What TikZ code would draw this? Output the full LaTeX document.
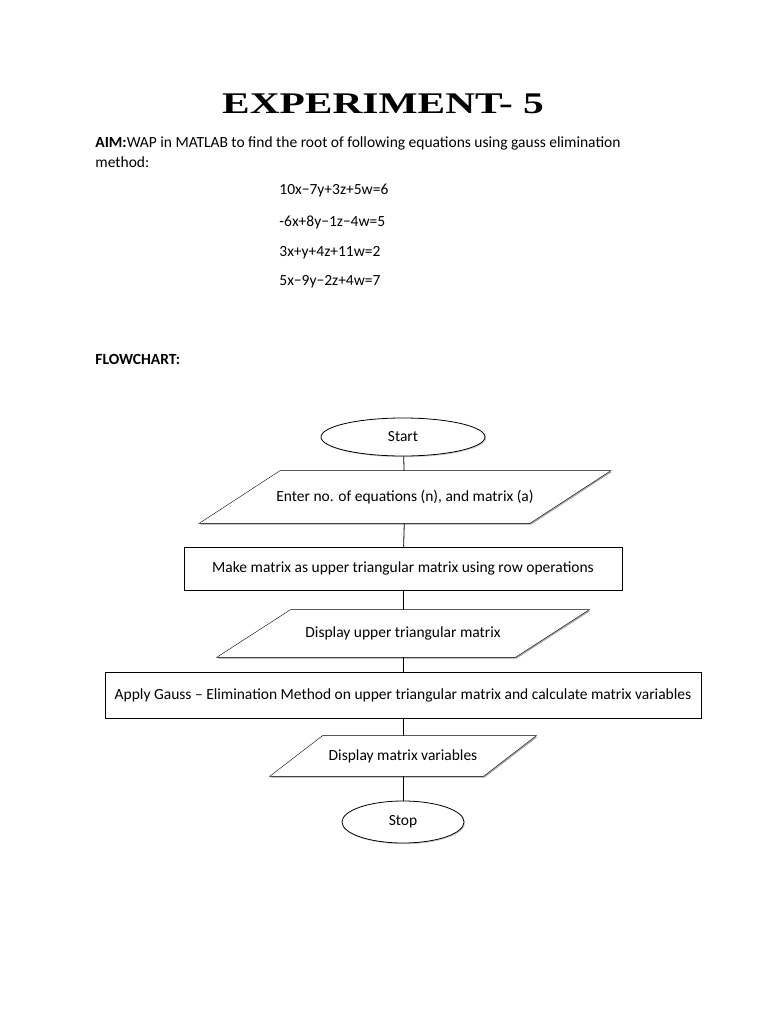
\documentclass[tikz,border=0pt]{standalone}
\usepackage{fontspec}
\setmainfont{Carlito}
\newfontfamily\titlefont{Liberation Serif}
\usetikzlibrary{shapes.geometric, shadows, backgrounds}

% parallelogram round a named node: #1 node, #2 half of the slant
\newcommand{\ioframe}[2]{%
  \begin{scope}[on background layer]
    \fill[black!35] ([xshift=#2pt+1.2pt, yshift=-1.2pt]#1.north west) -- ([xshift=#2pt+1.2pt, yshift=-1.2pt]#1.north east)
      -- ([xshift=-#2pt+1.2pt, yshift=-1.2pt]#1.south east) -- ([xshift=-#2pt+1.2pt, yshift=-1.2pt]#1.south west) -- cycle;
    \draw[fill=white] ([xshift=#2pt]#1.north west) -- ([xshift=#2pt]#1.north east)
      -- ([xshift=-#2pt]#1.south east) -- ([xshift=-#2pt]#1.south west) -- cycle;
  \end{scope}}

\begin{document}
\begin{tikzpicture}[x=1pt,y=1pt,line width=0.8pt,font=\fontsize{15.5}{18}\selectfont]
\tikzset{terminal/.style = {shape=ellipse, draw, fill=white, inner sep=0pt, drop shadow={opacity=0.35, shadow xshift=1.2pt, shadow yshift=-1.2pt}},
         io/.style = {shape=rectangle, inner sep=0pt},
         process/.style = {shape=rectangle, draw, fill=white, inner sep=0pt, drop shadow={opacity=0.35, shadow xshift=1.2pt, shadow yshift=-1.2pt}},
         txt/.style = {anchor=base west, inner sep=0pt}}
\useasboundingbox (0,0) rectangle (768,-1024);

%heading
\node[anchor=base, inner sep=0pt] (title) at (383,-114) {\titlefont\bfseries\fontsize{30}{30}\selectfont\scalebox{1.38}[1]{EXPERIMENT- 5}};
\node[txt] (aim) at (95,-148) {\textbf{AIM:}WAP in MATLAB to find the root of following equations using gauss elimination};
\node[txt] (method) at (95,-168) {method:};
\node[txt] (eq1) at (279,-195) {10x−7y+3z+5w=6};
\node[txt] (eq2) at (279,-226) {-6x+8y−1z−4w=5};
\node[txt] (eq3) at (279,-256) {3x+y+4z+11w=2};
\node[txt] (eq4) at (279,-285) {5x−9y−2z+4w=7};
\node[txt] (fc) at (95,-364) {\textbf{FLOWCHART:}};

%blocks
\node[terminal, minimum width=164, minimum height=38] (start) at (403,-437) {Start};
\node[io, minimum width=330, minimum height=52] (enter) at (405,-497) {Enter no. of equations (n), and matrix (a)};
\node[process, minimum width=438, minimum height=43] (make) at (403,-568.5) {Make matrix as upper triangular matrix using row operations};
\node[io, minimum width=298, minimum height=47] (dispu) at (403,-633.5) {Display upper triangular matrix};
\node[process, minimum width=596, minimum height=46] (apply) at (403,-695) {Apply Gauss – Elimination Method on upper triangular matrix and calculate matrix variables};
\node[io, minimum width=213, minimum height=40] (dispv) at (403,-756) {Display matrix variables};
\node[terminal, minimum width=122, minimum height=42] (stop) at (403,-822) {Stop};

\ioframe{enter}{40.5}
\ioframe{dispu}{37}
\ioframe{dispv}{26.5}

%links
\path (start) edge[draw] (enter);
\path (enter) edge[draw] (make);
\path (make) edge[draw] (dispu);
\path (dispu) edge[draw] (apply);
\path (apply) edge[draw] (dispv);
\path (dispv) edge[draw] (stop);

\end{tikzpicture}
\end{document}
